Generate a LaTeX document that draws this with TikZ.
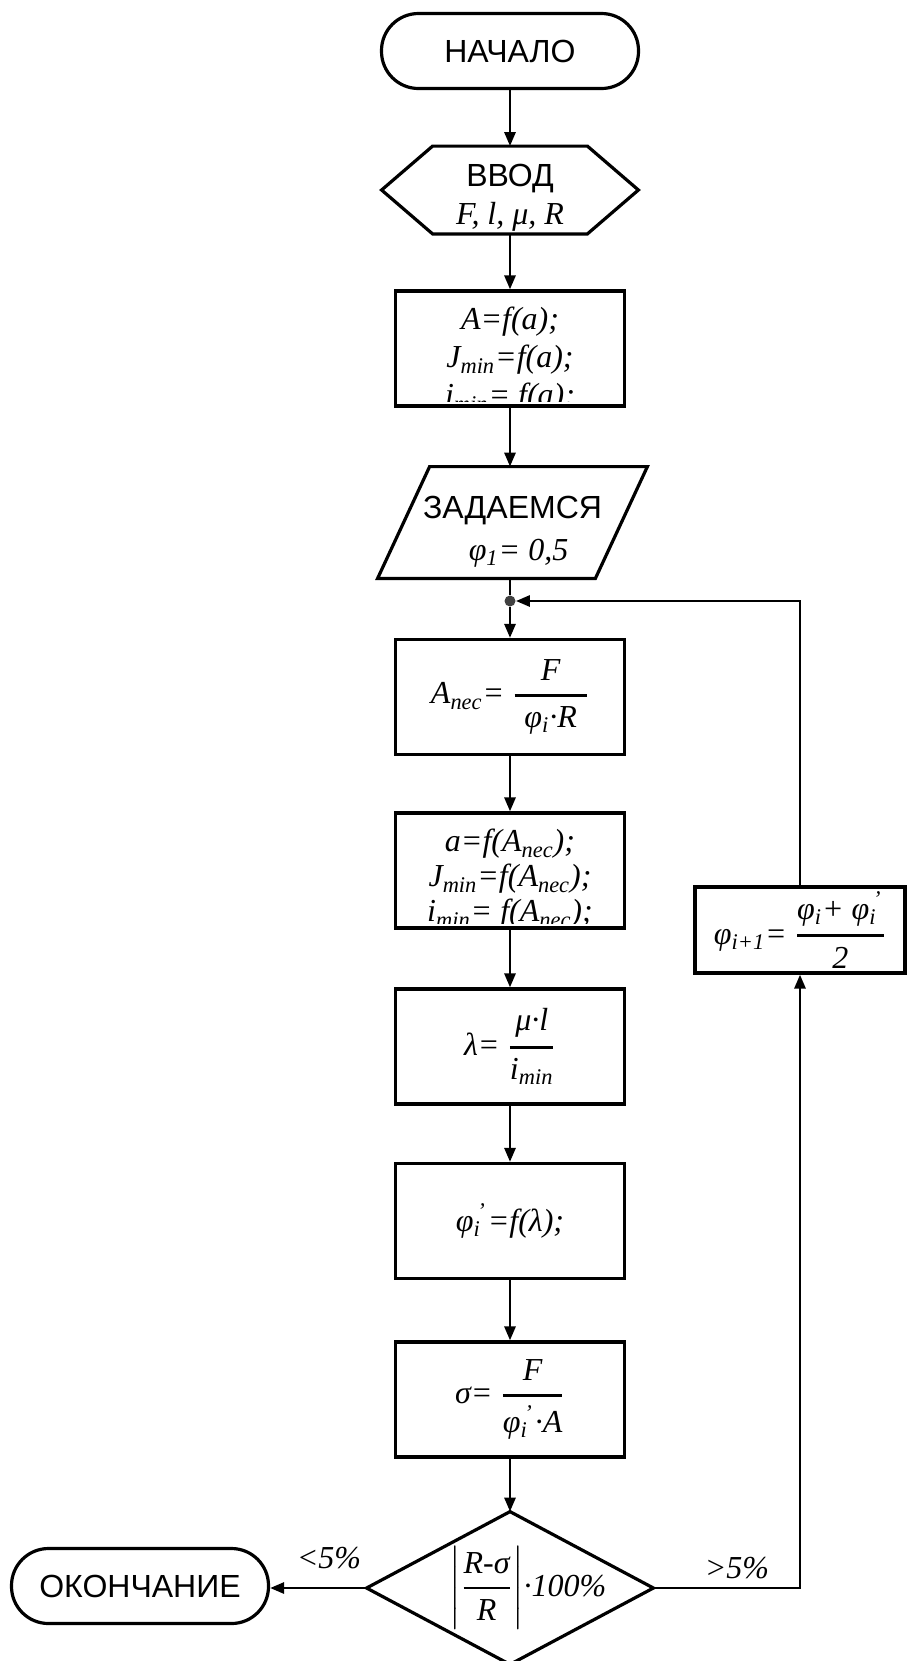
\documentclass[tikz,border=0pt]{standalone}
\usepackage{amsmath}
\usepackage{fontspec}
\setmainfont{Liberation Serif}
\newfontfamily\sansf{Liberation Sans}
\usetikzlibrary{arrows.meta,calc}
\newcommand\lo[1]{\textsubscript{#1}}
\newcommand\ps[1]{\rlap{\textsubscript{#1}}\textsuperscript{\,'}\kern1pt}
\newcommand\fr[2]{\ensuremath{\genfrac{}{}{1.4pt}{0}{\hbox{#1}}{\hbox{#2}}}}
\newcommand\fm{\fontsize{16}{19}\selectfont\itshape}
\newcommand\fmb{\fontsize{16}{17.5}\selectfont\itshape}
\newcommand\fs{\sansf\upshape\fontsize{16}{19}\selectfont}
\begin{document}
\begin{tikzpicture}[x=0.5pt,y=-0.5pt,
  shp/.style={line width=1.6pt, line join=miter},
  boxn/.style={draw, line width=1.6pt, minimum width=114.5pt, minimum height=57.5pt, inner sep=0pt, font=\fm},
  term/.style={draw, line width=1.6pt, rounded corners=18.5pt, minimum width=128.5pt, minimum height=37.5pt, inner sep=0pt, font=\fs},
  conn/.style={line width=1.4pt},
  arr/.style={conn, -{Triangle[length=7pt,width=5.5pt]}},
  lbl/.style={font=\fm}]
\useasboundingbox (0,0) rectangle (909,1661);

\node[term] (start) at (510,51) {НАЧАЛО};

\node[inner sep=0pt, minimum width=128pt, minimum height=43.5pt, align=center, font=\fm] (inp) at (510,190) {\rule{0pt}{19pt}{\fs ВВОД}\\F, l, μ, R};
\draw[shp] (inp.west) -- ($(inp.north west)+(25.5pt,0)$) -- ($(inp.north east)+(-25.5pt,0)$) -- (inp.east) -- ($(inp.south east)+(-25.5pt,0)$) -- ($(inp.south west)+(25.5pt,0)$) -- cycle;

\node[boxn] (b1) at (510,348.5) {};
\begin{scope}
\clip ($(b1.south west)+(1pt,3pt)$) rectangle ($(b1.north east)+(-1pt,-1pt)$);
\node[align=center, font=\fm, inner sep=0pt] (b1t) at (510,360) {A=f(a);\\J\lo{min}=f(a);\\i\lo{min}= f(a);};
\end{scope}

\node[inner sep=0pt, minimum width=134.5pt, minimum height=55.5pt, align=center, font=\fm] (par) at (512.5,522.5) {\rule{0pt}{20pt}{\fs ЗАДАЕМСЯ}\\[2pt]\hspace{6pt}φ\lo{1}= 0,5};
\draw[shp] (par.south west) -- ($(par.south east)+(-26pt,0)$) -- (par.north east) -- ($(par.north west)+(26pt,0)$) -- cycle;

\node[circle, fill=black!75, inner sep=0pt, minimum size=5.5pt] (dot) at (510,601) {};

\node[boxn] (b2) at (510,697) {A\lo{nec}= \fr{\makebox[36pt]{F}}{φ\lo{i}·R}\hspace{6pt}};

\node[boxn] (b3) at (510,870.5) {};
\begin{scope}
\clip ($(b3.south west)+(1pt,3pt)$) rectangle ($(b3.north east)+(-1pt,-1pt)$);
\node[align=center, font=\fmb, inner sep=0pt] (b3t) at (510,879) {a=f(A\lo{nec});\\J\lo{min}=f(A\lo{nec});\\i\lo{min}= f(A\lo{nec});};
\end{scope}

\node[boxn] (b4) at (510,1046.5) {λ= \fr{μ·l}{i\lo{min}}\hspace{12pt}};
\node[boxn] (b5) at (510,1221) {φ\ps{i}=f(λ);};
\node[boxn] (b6) at (510,1399.5) {σ= \fr{F}{φ\ps{i}·A}};

\node[inner sep=0pt, minimum width=143pt, minimum height=76pt, font=\fm] (dia) at (510,1588) {\hspace{18pt}$\left|\fr{R-σ}{R}\right|$·100\%};
\draw[shp] (dia.north) -- (dia.east) -- (dia.south) -- (dia.west) -- cycle;

\node[term] (end) at (140,1586) {ОКОНЧАНИЕ};

\node[boxn, minimum width=105pt, minimum height=43pt] (b7) at (800,930) {φ\lo{i+1}= \fr{φ\lo{i}+ φ\ps{i}}{2}};

\node[lbl] (lt) at (329,1558) {<5\%};
\node[lbl] (gt) at (737,1568) {>5\%};

\draw[arr] (start) -- (inp);
\draw[arr] (inp) -- (b1);
\draw[arr] (b1) -- (b1 |- par.north);
\draw[conn] (b1 |- par.south) -- (dot);
\draw[arr] (dot) -- (b2);
\draw[arr] (b2) -- (b3);
\draw[arr] (b3) -- (b4);
\draw[arr] (b4) -- (b5);
\draw[arr] (b5) -- (b6);
\draw[arr] (b6) -- (dia.north);
\draw[arr] (dia.west) -- (dia.west -| end.east);
\draw[arr] (dia.east) -| (b7.south);
\draw[arr] (b7.north) |- (dot.east);
\end{tikzpicture}
\end{document}
